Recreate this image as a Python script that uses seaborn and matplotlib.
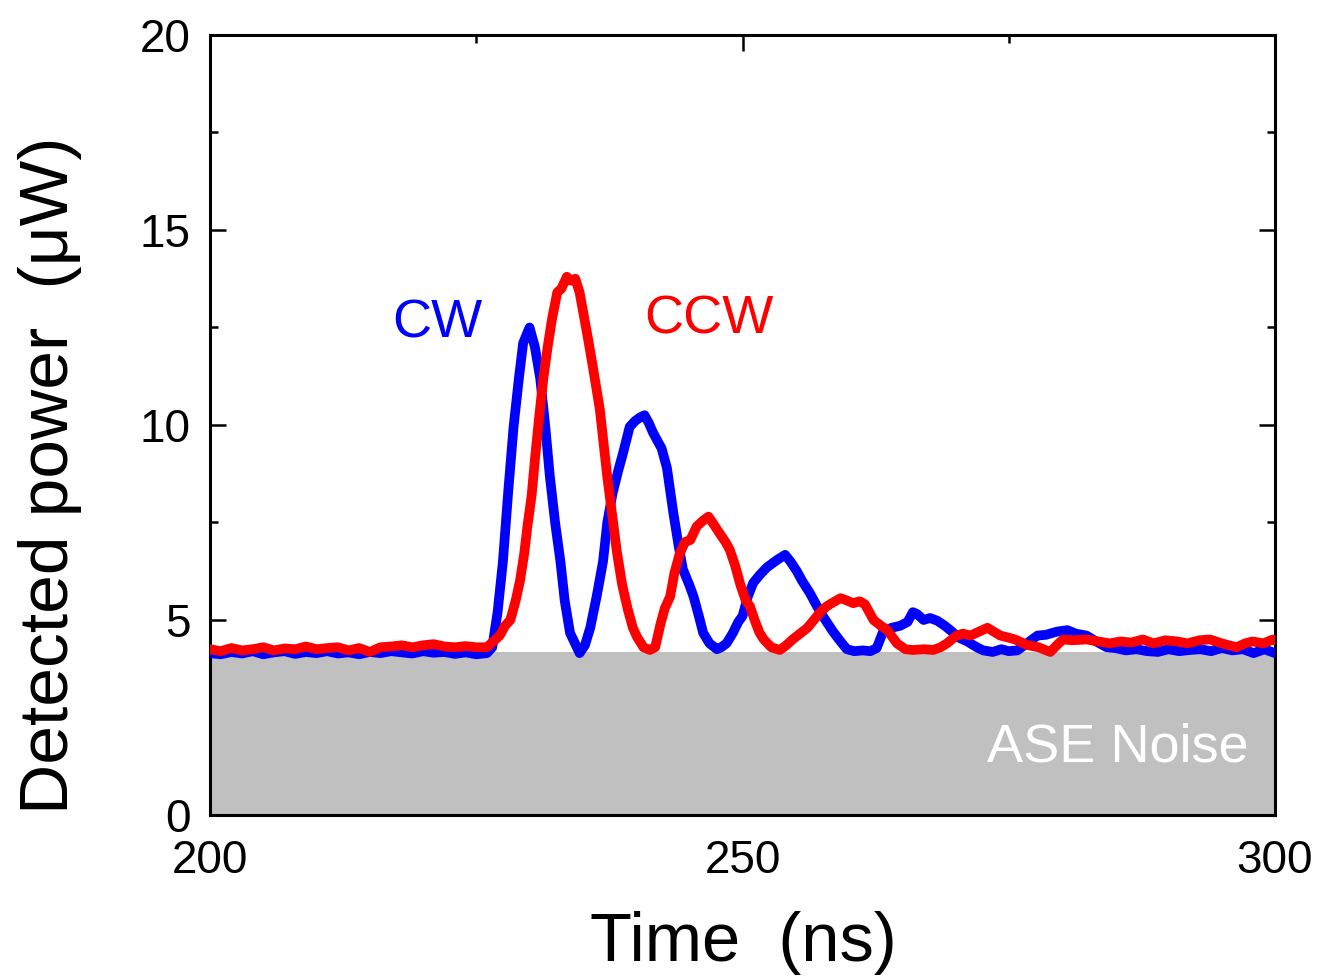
import numpy as np
import pandas as pd
import matplotlib
matplotlib.use("Agg")
import matplotlib.pyplot as plt
import seaborn as sns

# ---------------- data ----------------
cw_time = [200, 201, 202, 203, 204, 205, 206, 207, 208, 209, 210, 211, 212, 213, 214, 215, 216, 217, 218, 219,
           220, 221, 222, 223, 224, 225, 226, 226.5, 227, 227.5, 228, 228.5, 229, 229.4, 230, 230.5, 231, 231.5,
           231.9, 232.4, 232.9, 233.3, 233.8, 234.7, 235.2, 235.7, 236.3, 236.9, 237.3, 237.8, 238.3, 238.8,
           239.4, 239.9, 240.4, 240.8, 241.2, 241.6, 242.0, 242.4, 242.9, 243.5, 244.0, 244.4, 245.0, 245.4,
           245.9, 246.3, 246.9, 247.6, 248.0, 248.5, 249.1, 249.6, 250.0, 250.5, 251.0, 251.6, 252.3, 252.8,
           253.3, 254.0, 254.5, 255.1, 255.6, 256.3, 256.8, 257.3, 257.9, 258.5, 259.2, 259.8, 260.5, 261.3,
           262.0, 262.6, 263.2, 264.0, 264.8, 265.5, 266.0, 266.4, 267.0, 267.6, 268.3, 269.0, 269.5, 270.3,
           271.1, 272.0, 272.6, 273.5, 274.3, 275.0, 275.8, 276.7, 277.7, 278.5, 279.5, 280.5, 281.3, 282.3,
           283.2, 284.2, 285.0, 286.0, 287.0, 288.0, 289.0, 290.0, 291.0, 292.0, 293.0, 294.0, 295.0, 296.0,
           297.0, 298.0, 299.0, 300.0]
cw_power = [4.15, 4.12, 4.18, 4.14, 4.20, 4.12, 4.17, 4.20, 4.13, 4.18, 4.15, 4.20, 4.14, 4.17, 4.12, 4.18, 4.15,
            4.20, 4.17, 4.14, 4.20, 4.16, 4.18, 4.13, 4.17, 4.12, 4.15, 4.30, 5.20, 6.50, 8.30, 9.95, 11.2, 12.1,
            12.5, 12.0, 11.2, 9.9, 8.7, 7.5, 6.5, 5.5, 4.67, 4.15, 4.35, 4.8, 5.6, 6.5, 7.5, 8.25, 8.8, 9.3,
            9.95, 10.1, 10.2, 10.25, 10.05, 9.8, 9.6, 9.4, 8.9, 7.75, 6.9, 6.3, 5.9, 5.6, 5.1, 4.67, 4.4, 4.25,
            4.3, 4.4, 4.67, 4.95, 5.1, 5.6, 5.95, 6.15, 6.35, 6.45, 6.55, 6.67, 6.5, 6.25, 6.0, 5.7, 5.45, 5.2,
            4.95, 4.7, 4.45, 4.25, 4.2, 4.22, 4.2, 4.28, 4.7, 4.8, 4.85, 4.95, 5.2, 5.15, 5.0, 5.05, 4.98, 4.85,
            4.74, 4.55, 4.45, 4.3, 4.22, 4.18, 4.25, 4.2, 4.22, 4.4, 4.6, 4.62, 4.7, 4.74, 4.65, 4.6, 4.45, 4.3,
            4.28, 4.22, 4.25, 4.2, 4.18, 4.25, 4.2, 4.23, 4.25, 4.2, 4.28, 4.22, 4.25, 4.15, 4.25, 4.15]

ccw_time = [200, 201, 202, 203, 204, 205, 206, 207, 208, 209, 210, 211, 212, 213, 214, 215, 216, 217, 218, 219,
            220, 221, 222, 223, 224, 225, 226, 226.6, 227.2, 227.7, 228.2, 228.7, 229.1, 229.5, 229.8, 230.2,
            230.5, 230.9, 231.3, 231.7, 232.1, 232.6, 233.0, 233.5, 233.9, 234.3, 234.7, 235.0, 235.5, 236.0,
            236.6, 237.3, 237.8, 238.2, 238.7, 239.2, 239.7, 240.1, 240.7, 241.3, 241.8, 242.3, 242.7, 243.2,
            243.6, 244.1, 244.6, 245.1, 245.7, 246.3, 246.8, 247.3, 247.9, 248.4, 248.8, 249.3, 249.8, 250.3,
            250.7, 251.2, 251.6, 252.0, 252.7, 253.5, 254.1, 254.7, 255.4, 256.1, 256.7, 257.3, 257.9, 258.5,
            259.2, 259.8, 260.4, 261.0, 261.5, 262.3, 263.0, 263.6, 264.5, 265.3, 266.0, 267.0, 267.9, 268.6,
            269.2, 270.1, 270.7, 271.4, 272.2, 273.0, 273.6, 274.2, 274.8, 275.6, 276.7, 277.8, 278.9, 279.5,
            280.1, 281.0, 282.3, 283.4, 284.5, 285.5, 286.5, 287.6, 288.6, 289.7, 290.8, 291.8, 292.9, 293.9,
            295.0, 296.4, 297.2, 297.9, 298.9, 299.8, 300.0]
ccw_power = [4.25, 4.20, 4.28, 4.22, 4.25, 4.30, 4.22, 4.27, 4.25, 4.32, 4.25, 4.28, 4.30, 4.22, 4.28, 4.18, 4.30,
             4.32, 4.35, 4.30, 4.35, 4.38, 4.32, 4.30, 4.33, 4.30, 4.30, 4.45, 4.60, 4.85, 5.0, 5.5, 6.0, 6.7,
             7.4, 8.2, 9.1, 10.2, 11.2, 12.0, 12.7, 13.4, 13.5, 13.8, 13.7, 13.75, 13.4, 12.95, 12.2, 11.4, 10.4,
             8.67, 7.6, 6.75, 5.9, 5.3, 4.8, 4.56, 4.3, 4.23, 4.3, 4.9, 5.3, 5.6, 6.2, 6.7, 7.0, 7.05, 7.4, 7.55,
             7.65, 7.45, 7.2, 7.0, 6.8, 6.4, 5.9, 5.5, 5.35, 4.95, 4.67, 4.5, 4.3, 4.23, 4.35, 4.5, 4.65, 4.8, 5.0,
             5.2, 5.35, 5.45, 5.56, 5.5, 5.43, 5.48, 5.4, 5.0, 4.85, 4.74, 4.4, 4.25, 4.23, 4.25, 4.23, 4.3, 4.4,
             4.6, 4.65, 4.6, 4.7, 4.8, 4.7, 4.6, 4.56, 4.5, 4.36, 4.3, 4.18, 4.35, 4.5, 4.48, 4.5, 4.45, 4.4, 4.45,
             4.42, 4.5, 4.4, 4.48, 4.45, 4.4, 4.48, 4.5, 4.4, 4.3, 4.4, 4.45, 4.4, 4.5, 4.48]

ase_level = 4.18
x_ticks = [200, 250, 300]
y_ticks = [0, 5, 10, 15, 20]

# ---------------- plot ----------------
sns.set_theme(style="white")
plt.rcParams["font.family"] = ["Liberation Sans", "DejaVu Sans"]
plt.rcParams["text.color"] = "black"
plt.rcParams["axes.labelcolor"] = "black"

fig = plt.figure(figsize=(13.17, 9.8), dpi=100)
ax = fig.add_axes([0.1595, 0.1684, 0.9681 - 0.1595, 0.9643 - 0.1684])

ax.fill_between([200, 300], [0, 0], [ase_level, ase_level], color="#c0c0c0", lw=0, zorder=1)

df_cw = pd.DataFrame({"t": cw_time, "p": cw_power})
df_ccw = pd.DataFrame({"t": ccw_time, "p": ccw_power})
sns.lineplot(data=df_cw, x="t", y="p", sort=False, color="#0000ff", lw=7, ax=ax,
             solid_joinstyle="round", solid_capstyle="round", zorder=3)
sns.lineplot(data=df_ccw, x="t", y="p", sort=False, color="#ff0000", lw=7, ax=ax,
             solid_joinstyle="round", solid_capstyle="round", zorder=4)

ax.set_xlim(200, 300)
ax.set_ylim(0, 20)
ax.set_xticks(x_ticks)
ax.set_yticks(y_ticks)
ax.set_xticks([225, 275], minor=True)
ax.set_yticks([2.5, 7.5, 12.5, 17.5], minor=True)
ax.tick_params(which="both", direction="in", top=True, right=True, bottom=True, left=True,
               width=1.8, colors="black", labelcolor="black")
ax.tick_params(which="major", length=11.5, labelsize=33, pad=14)
ax.tick_params(axis="x", which="major", pad=17)
ax.tick_params(which="minor", length=6)
for s in ax.spines.values():
    s.set_linewidth(2.2)
    s.set_color("black")

ax.set_xlabel("Time  (ns)", fontsize=49.5, color="black")
ax.set_ylabel("Detected power  (μW)", fontsize=50, color="black")
ax.xaxis.label.set_va("center")
ax.yaxis.label.set_va("center")
ax.xaxis.set_label_coords(0.5005, -0.164)
ax.yaxis.set_label_coords(-0.150, 0.436)

ax.text(221.3, 12.6, "CW", color="#0000ff", fontsize=39, ha="center", va="center")
ax.text(246.8, 12.7, "CCW", color="#ff0000", fontsize=39, ha="center", va="center")
ax.text(297.5, 1.74, "ASE Noise", color="white", fontsize=39, ha="right", va="center")

fig.savefig("out.png", dpi=100)
